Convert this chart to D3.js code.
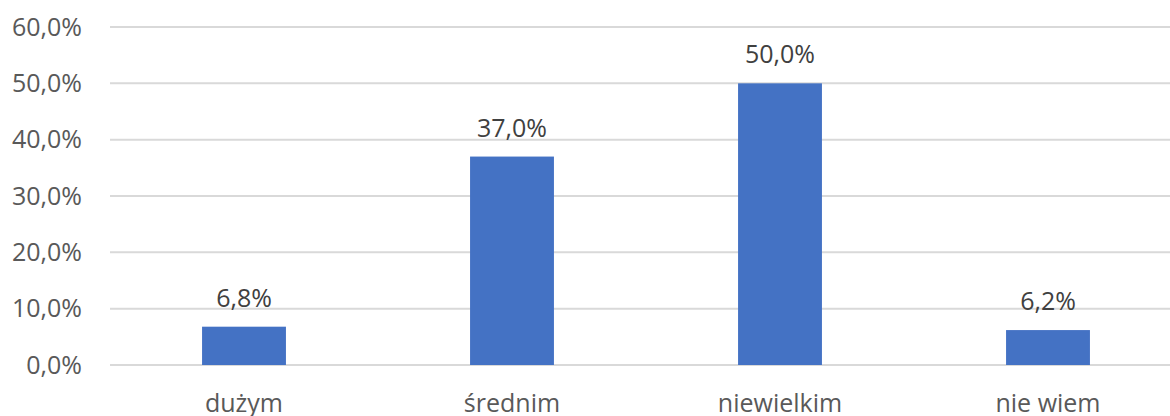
<!DOCTYPE html>
<html><head><meta charset="utf-8">
<script src="https://cdn.jsdelivr.net/npm/d3@7"></script>
<style>body{margin:0;background:#fff;}svg{display:block;}</style>
</head><body>
<script>
const categories = ["dużym", "średnim", "niewielkim", "nie wiem"];
const values = [6.8, 37.0, 50.0, 6.2];
const yTicks = [0, 10, 20, 30, 40, 50, 60];

const W = 1170, H = 416;
const svg = d3.select("body").append("svg").attr("width", W).attr("height", H);
const font = "'Open Sans', sans-serif";
const fmt = v => v.toFixed(1).replace(".", ",") + "%";

const x = d3.scaleBand().domain(categories).range([110, 1182]).paddingInner(0.687).paddingOuter(0.3435);
const y = d3.scaleLinear().domain([0, 60]).range([365, 27]);

// gridlines
svg.append("g").selectAll("line").data(yTicks).join("line")
  .attr("x1", 110).attr("x2", W)
  .attr("y1", d => y(d)).attr("y2", d => y(d))
  .attr("stroke", "#d9d9d9").attr("stroke-width", 2);

// y labels
svg.append("g").selectAll("text").data(yTicks).join("text")
  .attr("x", 82).attr("y", d => y(d)).attr("dy", "0.35em")
  .attr("text-anchor", "end").attr("font-family", font).attr("font-size", 25)
  .attr("fill", "#595959").text(d => fmt(d));

// bars
svg.append("g").selectAll("rect").data(values).join("rect")
  .attr("x", (d, i) => x(categories[i])).attr("width", x.bandwidth())
  .attr("y", d => y(d)).attr("height", d => y(0) - y(d))
  .attr("fill", "#4472c4");

// value labels
svg.append("g").selectAll("text").data(values).join("text")
  .attr("x", (d, i) => x(categories[i]) + x.bandwidth() / 2)
  .attr("y", d => y(d) - 20)
  .attr("text-anchor", "middle").attr("font-family", font).attr("font-size", 25)
  .attr("fill", "#404040").text(d => fmt(d));

// category labels
svg.append("g").selectAll("text").data(categories).join("text")
  .attr("x", d => x(d) + x.bandwidth() / 2).attr("y", 412)
  .attr("text-anchor", "middle").attr("font-family", font).attr("font-size", 25)
  .attr("fill", "#595959").text(d => d);
</script>
</body></html>
